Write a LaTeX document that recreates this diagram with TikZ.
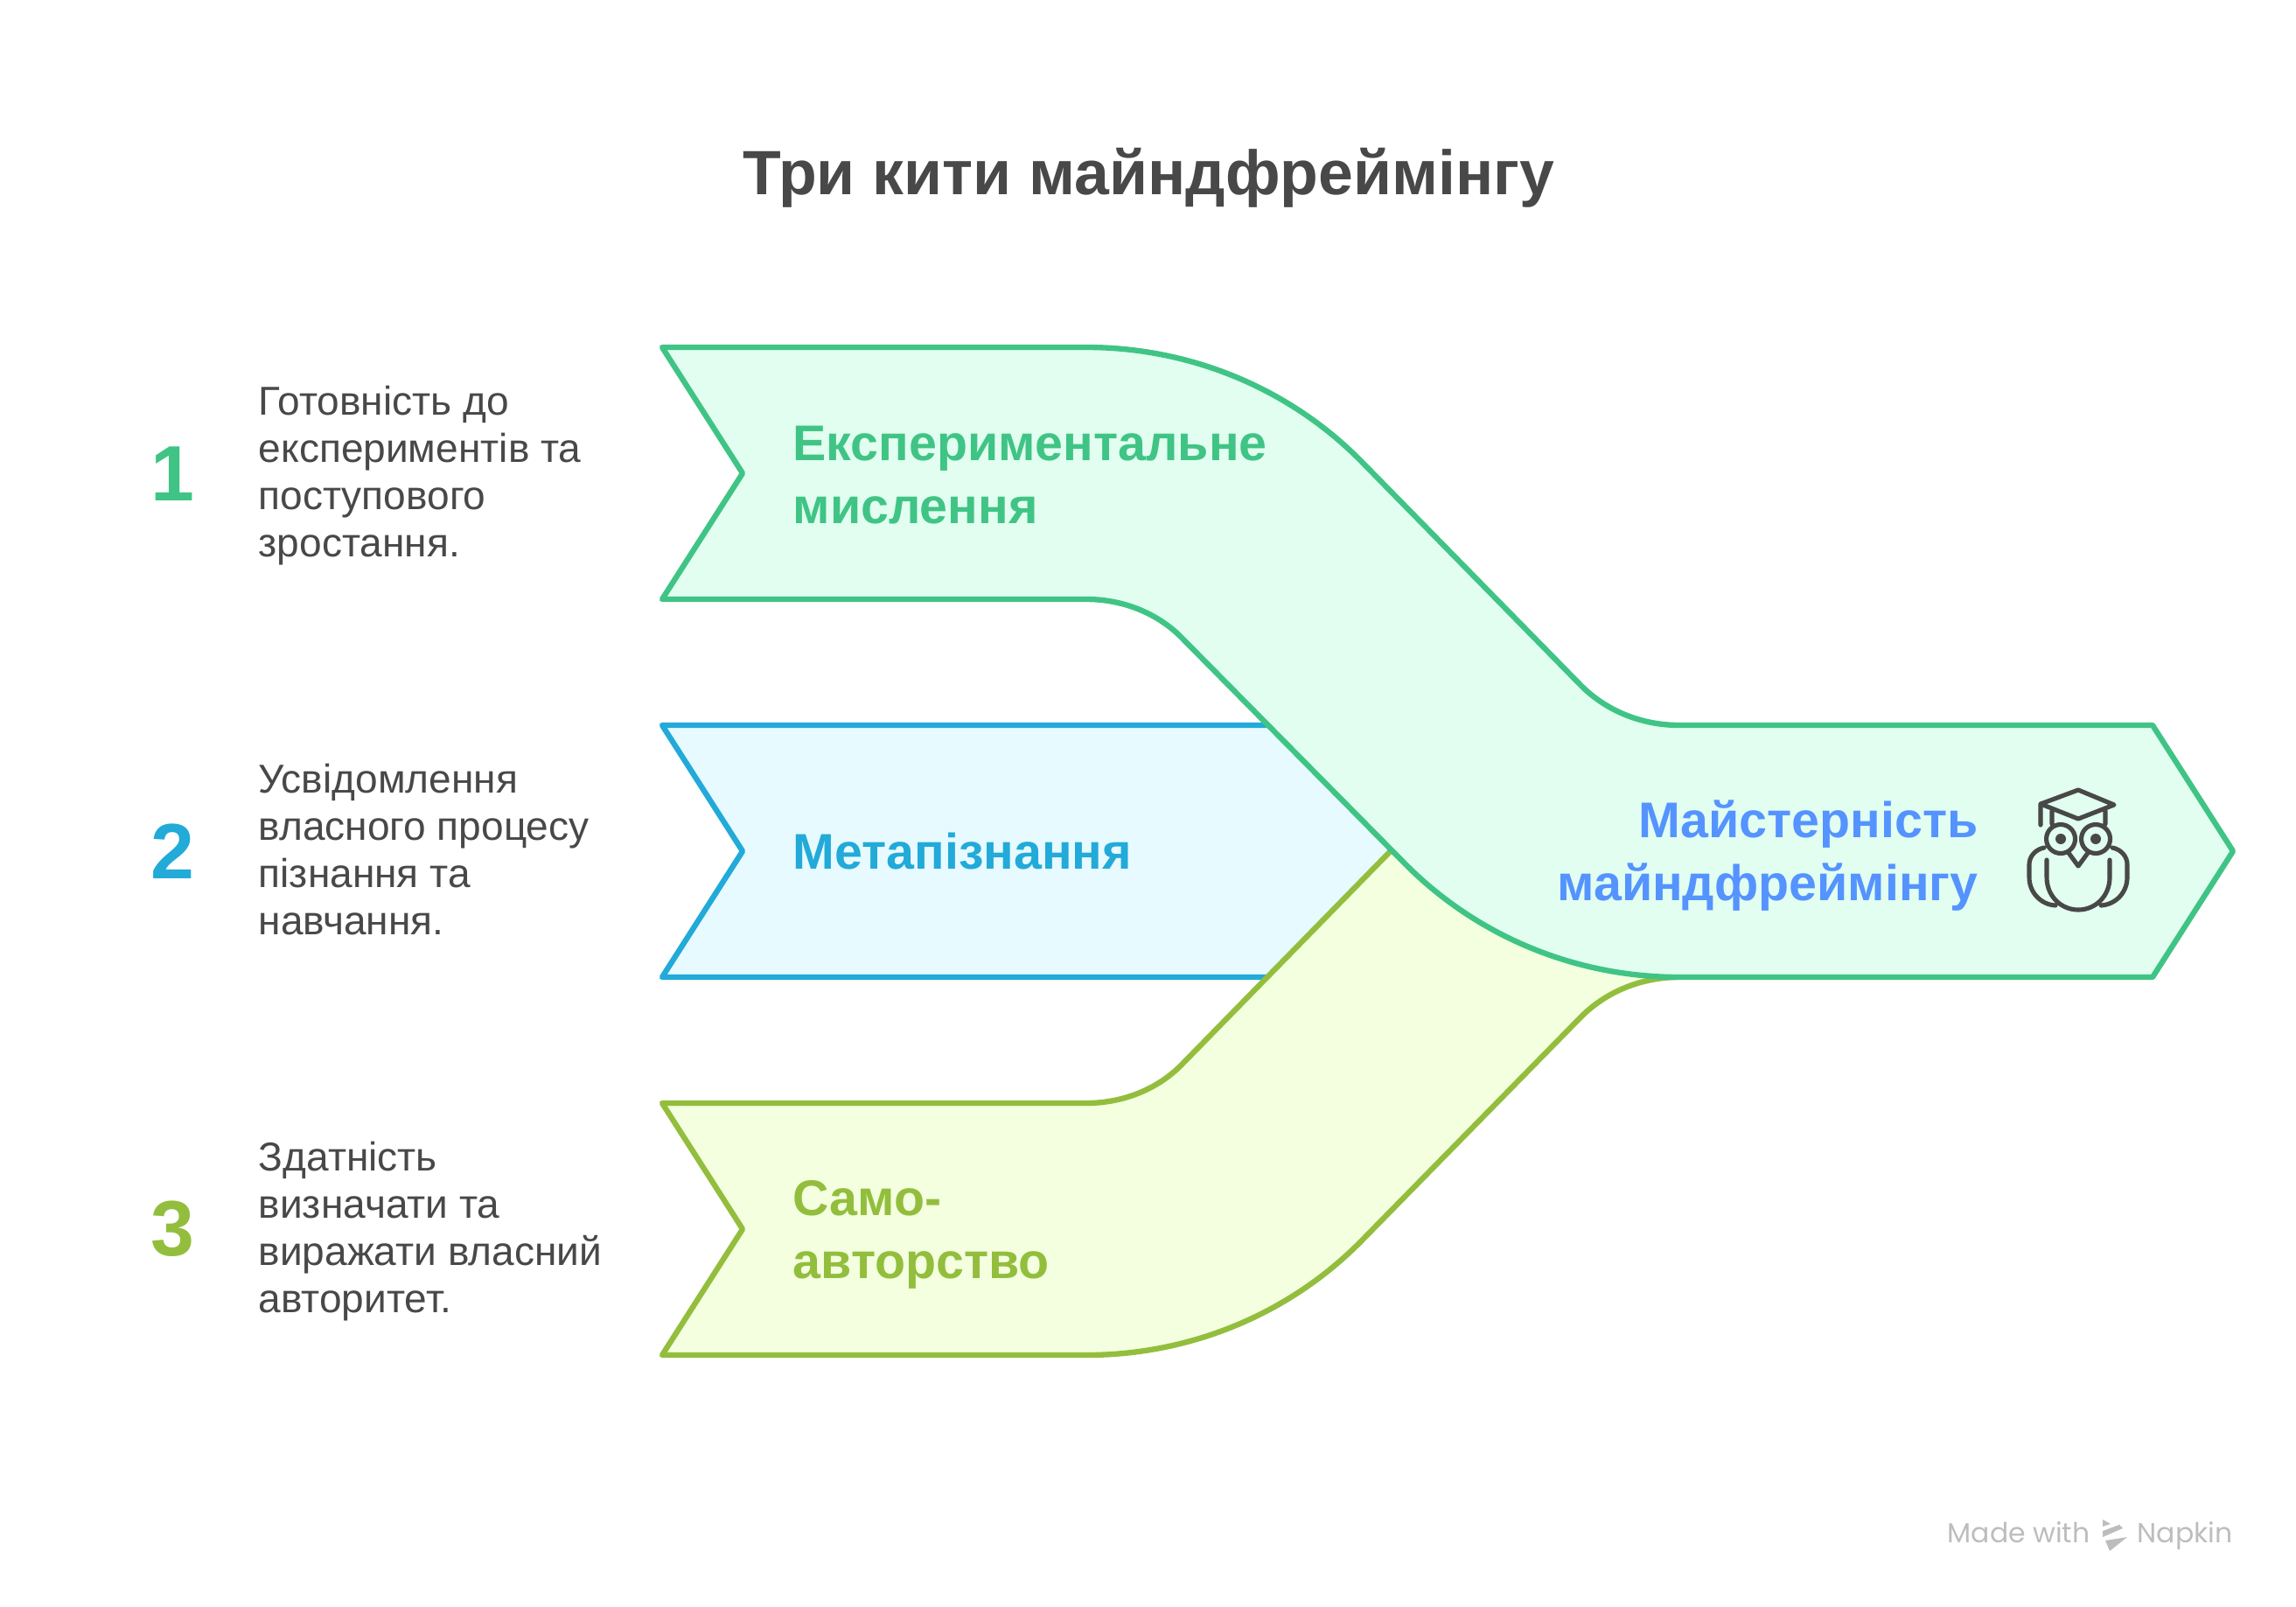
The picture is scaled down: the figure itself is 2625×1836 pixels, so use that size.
\documentclass[tikz,border=0pt]{standalone}
\usepackage{fontspec}
\setmainfont{Liberation Sans}
\newfontfamily\markfont{Poppins}

\definecolor{greenline}{HTML}{40C485}
\definecolor{greenfill}{HTML}{E1FEF0}
\definecolor{blueline}{HTML}{22AAD8}
\definecolor{bluefill}{HTML}{E6FAFF}
\definecolor{limeline}{HTML}{93BE3D}
\definecolor{limefill}{HTML}{F3FFDF}
\definecolor{goalblue}{HTML}{5593FF}
\definecolor{inkgray}{HTML}{484848}
\definecolor{markgray}{HTML}{BDBDBD}

\tikzset{
    band/.style = {line width=1.8pt, line join=round},
    heading/.style = {anchor=north west, inner sep=0, align=left, font=\fontsize{16.3}{20.5}\selectfont\bfseries},
    note/.style = {anchor=north west, inner sep=0, align=left, text=inkgray, font=\fontsize{13.1}{15.36}\selectfont},
    numeral/.style = {inner sep=0, font=\fontsize{25.5}{30}\selectfont\bfseries},
    owl/.style = {draw=inkgray, line width=1.45pt, line cap=round, line join=round},
    markword/.style = {anchor=base, inner sep=0, text=markgray, font=\fontsize{8.95}{12}\selectfont\markfont}
}

\begin{document}
\begin{tikzpicture}[x=0.01cm, y=-0.01cm]

    \useasboundingbox (0, 0) rectangle (2625, 1836);

    \draw [band, draw=blueline, fill=bluefill]
        (757, 829) -- (849, 973) -- (757, 1117) -- (1700, 1117) -- (1700, 829) -- cycle;

    \draw [band, draw=limeline, fill=limefill]
        (757, 1261) -- (849, 1405) -- (757, 1549) -- (1242, 1549)
        .. controls (1361, 1549) and (1474, 1502) .. (1556, 1419)
        -- (1806, 1164)
        .. controls (1835, 1134) and (1876, 1117) .. (1920, 1117)
        -- (1620, 942) -- (1350, 1218)
        .. controls (1323, 1245) and (1284, 1261) .. (1242, 1261)
        -- cycle;

    \draw [band, draw=greenline, fill=greenfill]
        (757, 397) -- (849, 541) -- (757, 685) -- (1242, 685)
        .. controls (1284, 685) and (1323, 701) .. (1350, 728)
        -- (1606, 987)
        .. controls (1688, 1070) and (1801, 1117) .. (1920, 1117)
        -- (2461, 1117) -- (2553, 973) -- (2461, 829) -- (1920, 829)
        .. controls (1876, 829) and (1835, 812) .. (1806, 782)
        -- (1556, 527)
        .. controls (1474, 444) and (1361, 397) .. (1242, 397)
        -- cycle;

    \node [text=inkgray, font=\fontsize{20.35}{25}\selectfont\bfseries] (title) at (1313, 203) {Три кити майндфреймінгу};

    \node [numeral, text=greenline] (num1) at (197, 542) {1};
    \node [numeral, text=blueline] (num2) at (197, 973) {2};
    \node [numeral, text=limeline] (num3) at (197, 1405) {3};

    \node [note] (note1) at (295, 440) {Готовність до\\експериментів та\\поступового\\зростання.};
    \node [note] (note2) at (295, 872) {Усвідомлення\\власного процесу\\пізнання та\\навчання.};
    \node [note] (note3) at (295, 1304) {Здатність\\визначати та\\виражати власний\\авторитет.};

    \node [heading, text=greenline] (head1) at (906, 486) {Експериментальне\\мислення};
    \node [heading, text=blueline] (head2) at (906, 951) {Метапізнання};
    \node [heading, text=limeline] (head3) at (906, 1349) {Само-\\авторство};
    \node [heading, text=goalblue, anchor=north east, align=right] (head4) at (2262, 914) {Майстерність\\майндфреймінгу};

    \draw [owl]
        (2376, 903) -- (2417, 920) -- (2376, 936) -- (2333, 919) -- cycle
        (2333, 919) -- (2333, 943)
        (2346, 927) -- (2346, 942)
        (2407, 927) -- (2407, 942)
        (2356, 959) circle (16.5)
        (2396, 959) circle (16.5)
        (2365, 975) -- (2376, 990) -- (2387, 975)
        (2337, 969) .. controls (2327, 971) and (2320, 979) .. (2320, 988) -- (2320, 1003)
        .. controls (2320, 1020) and (2333, 1034) .. (2350, 1035)
        (2415, 969) .. controls (2425, 971) and (2432, 979) .. (2432, 988) -- (2432, 1003)
        .. controls (2432, 1020) and (2419, 1034) .. (2402, 1035)
        (2340, 983) -- (2340, 1003)
        .. controls (2340, 1024) and (2356, 1040) .. (2376, 1040)
        .. controls (2396, 1040) and (2412, 1024) .. (2412, 1003)
        -- (2412, 983);
    \fill [inkgray] (2356, 959) circle (6) (2396, 959) circle (6);

    \node [markword] (made) at (2308, 1763) {Made with};
    \node [markword] (napkin) at (2498, 1763) {Napkin};
    \fill [markgray]
        (2404, 1737) -- (2413, 1742) -- (2404, 1745) -- cycle
        (2404, 1750) -- (2423, 1743) -- (2427, 1747) -- (2404, 1757) -- cycle
        (2407, 1761) -- (2432, 1757) -- (2412, 1773) -- cycle;

\end{tikzpicture}
\end{document}
